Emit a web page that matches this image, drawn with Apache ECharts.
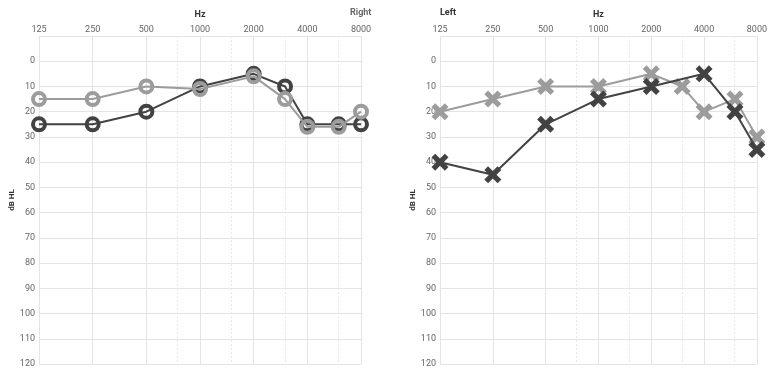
<!DOCTYPE html>
<html><head><meta charset="utf-8">
<script src="https://cdn.jsdelivr.net/npm/echarts@6/dist/echarts.min.js"></script>
<style>html,body{margin:0;padding:0;background:#fff}#c{width:770px;height:372px}</style>
</head><body><div id="c"></div>
<script>
// ---- data ----
const octaveTicks = [125, 250, 500, 1000, 2000, 4000, 8000];
const interOctaves = [750, 1500, 3000, 6000];
const hlTicks = [0, 10, 20, 30, 40, 50, 60, 70, 80, 90, 100, 110, 120];

const rightFreqs = [125, 250, 500, 1000, 2000, 3000, 4000, 6000, 8000];
const rightDark  = [25, 25, 20, 10, 5, 10, 25, 25, 25];
const rightLight = [15, 15, 10, 11, 6, 15, 26, 26, 20];

const leftDarkFreqs  = [125, 250, 500, 1000, 2000, 4000, 6000, 8000];
const leftDark       = [40, 45, 25, 15, 10, 5, 20, 35];
const leftLightFreqs = [125, 250, 500, 1000, 2000, 3000, 4000, 6000, 8000];
const leftLight      = [20, 15, 10, 10, 5, 10, 20, 15, 30];

// ---- styles ----
const DARK = '#424242', LIGHT = '#9c9c9c';
const oct = f => Math.log2(f / 125);
const pairs = (fs, vs) => fs.map((f, i) => [oct(f), vs[i]]);
const CROSS = 'path://M0,3.5 L3.5,0 L8,4.5 L12.5,0 L16,3.5 L11.5,8 L16,12.5 L12.5,16 L8,11.5 L3.5,16 L0,12.5 L4.5,8 Z';

function xAx(gi) {
  return {
    gridIndex: gi, type: 'value', position: 'top', min: 0, max: 6, interval: 1,
    name: 'Hz', nameLocation: 'middle', nameGap: 17,
    nameTextStyle: { fontSize: 9, fontWeight: 'bold', color: '#333', fontFamily: 'Roboto' },
    axisLine: { show: false }, axisTick: { show: false },
    axisLabel: { fontSize: 9, color: '#666', margin: 2, fontFamily: 'Roboto',
      formatter: v => String(octaveTicks[Math.round(v)]) },
    splitLine: { show: true, lineStyle: { color: '#e4e4e4', width: 1 } }
  };
}
function yAx(gi) {
  return {
    gridIndex: gi, type: 'value', inverse: true, min: -10, max: 120, interval: 10,
    name: 'dB HL', nameLocation: 'middle', nameRotate: 90, nameGap: 20,
    nameTextStyle: { fontSize: 8, fontWeight: 'bold', color: '#333', fontFamily: 'Roboto' },
    axisLine: { show: false }, axisTick: { show: false },
    axisLabel: { fontSize: 9, color: '#666', margin: 4, fontFamily: 'Roboto',
      formatter: v => hlTicks.indexOf(v) >= 0 ? String(v) : '' },
    splitLine: { show: true, lineStyle: { color: '#e4e4e4', width: 1 } }
  };
}
function guideSeries(gi) {
  return {
    type: 'line', xAxisIndex: gi, yAxisIndex: gi, data: [], z: 1, silent: true,
    markLine: {
      z: 1, silent: true, symbol: ['none', 'none'], animation: false,
      label: { show: false },
      lineStyle: { type: [2, 2], color: '#e8e8e8', width: 1 },
      data: interOctaves.map(f => ({ xAxis: oct(f) }))
    }
  };
}
function circleSeries(gi, data, color, z) {
  return {
    type: 'line', xAxisIndex: gi, yAxisIndex: gi, data, z,
    symbol: 'circle', symbolSize: 12,
    itemStyle: { color: 'rgba(0,0,0,0)', borderColor: color, borderWidth: 4 },
    lineStyle: { color, width: 2 }, animation: false
  };
}
function crossSeries(gi, data, color, z) {
  return {
    type: 'line', xAxisIndex: gi, yAxisIndex: gi, data, z,
    symbol: CROSS, symbolSize: 17,
    itemStyle: { color },
    lineStyle: { color, width: 2 }, animation: false
  };
}

const chart = echarts.init(document.getElementById('c'));
chart.setOption({
  backgroundColor: '#fff',
  title: [
    { text: 'Right', left: 345, top: 3, textStyle: { fontSize: 9, fontWeight: 'bold', color: '#666', fontFamily: 'Roboto' } },
    { text: 'Left', left: 435, top: 3, textStyle: { fontSize: 9, fontWeight: 'bold', color: '#333', fontFamily: 'Roboto' } }
  ],
  grid: [
    { left: 39, right: 409, top: 36, bottom: 8 },
    { left: 440, right: 7, top: 36, bottom: 8 }
  ],
  xAxis: [xAx(0), xAx(1)],
  yAxis: [yAx(0), yAx(1)],
  series: [
    guideSeries(0),
    guideSeries(1),
    circleSeries(0, pairs(rightFreqs, rightDark), DARK, 2),
    circleSeries(0, pairs(rightFreqs, rightLight), LIGHT, 3),
    crossSeries(1, pairs(leftLightFreqs, leftLight), LIGHT, 2),
    crossSeries(1, pairs(leftDarkFreqs, leftDark), DARK, 3)
  ]
});
</script></body></html>
